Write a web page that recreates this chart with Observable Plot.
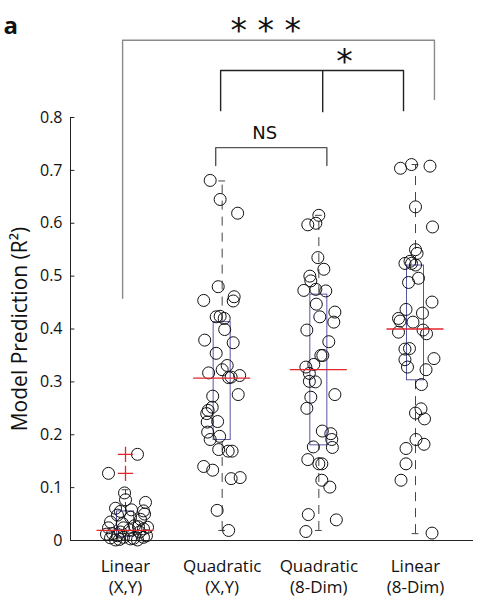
<!DOCTYPE html>
<html>
<head>
<meta charset="utf-8">
<script src="https://cdn.jsdelivr.net/npm/d3@7"></script>
<script src="https://cdn.jsdelivr.net/npm/@observablehq/plot@0.6"></script>
<style>
  html, body { margin: 0; padding: 0; background: white; }
</style>
</head>
<body>
<div id="chart"></div>
<script>
// ---------- data ----------
const categories = ["Linear\n(X,Y)", "Quadratic\n(X,Y)", "Quadratic\n(8-Dim)", "Linear\n(8-Dim)"];
const yTicks = [0, 0.1, 0.2, 0.3, 0.4, 0.5, 0.6, 0.7, 0.8];

const valuesLinearXY = [0.163,0.127,0.090,0.077,0.072,0.061,0.056,0.050,0.058,0.055,0.048,0.035,0.044,0.040,0.032,0.028,0.026,0.025,0.024,0.020,0.022,0.013,0.009,0.006,0.016,0.009,0.003,0.005,0.001,0.001,0.006,0.016,0.024,0.012,0.002,0.004];
const jitterLinearXY = [0.124,-0.176,-0.01,0,0.207,-0.103,0.186,0.197,0.062,-0.052,-0.083,-0.155,0.052,0.155,-0.031,0.093,0.134,0.228,-0.176,0.041,0.186,-0.134,-0.083,-0.021,0.145,0.217,0.052,-0.155,-0.103,0.124,0.186,-0.052,-0.021,-0.197,-0.062,0.083];

const valuesQuadXY = [0.681,0.645,0.619,0.480,0.454,0.461,0.453,0.423,0.424,0.420,0.399,0.379,0.374,0.354,0.331,0.323,0.317,0.308,0.309,0.312,0.276,0.273,0.252,0.246,0.240,0.225,0.224,0.205,0.197,0.191,0.172,0.169,0.169,0.140,0.133,0.117,0.119,0.057,0.019];
const jitterQuadXY = [-0.124,-0.021,0.16,-0.041,-0.191,0.124,0.114,-0.062,-0.021,0.021,0.026,-0.181,0.114,-0.062,0.052,0,-0.14,0.067,0.093,0.181,0.166,-0.098,-0.103,-0.145,-0.16,-0.047,-0.155,-0.15,-0.026,-0.124,-0.036,0.062,0.103,-0.191,-0.098,0.093,0.186,-0.052,0.067];

const valuesQuad8 = [0.615,0.597,0.600,0.535,0.513,0.500,0.491,0.473,0.475,0.472,0.447,0.432,0.423,0.413,0.398,0.376,0.350,0.350,0.333,0.328,0.316,0.301,0.300,0.276,0.271,0.250,0.207,0.202,0.191,0.177,0.176,0.153,0.145,0.145,0.114,0.101,0.049,0.039,0.017];
const jitterQuad8 = [0,-0.114,-0.031,-0.01,0.052,-0.093,-0.083,-0.155,-0.031,0.072,-0.026,0.166,0.01,0.155,-0.124,0.103,0.021,0.041,-0.052,-0.134,-0.098,-0.098,-0.036,0.166,-0.083,-0.124,0.036,0.124,0.134,-0.057,0.14,-0.114,0,0.031,0.031,0.114,-0.109,0.181,-0.134];

const valuesLinear8 = [0.704,0.711,0.708,0.631,0.593,0.550,0.543,0.524,0.524,0.521,0.528,0.496,0.488,0.451,0.437,0.430,0.420,0.415,0.413,0.394,0.398,0.391,0.362,0.363,0.342,0.328,0.344,0.323,0.295,0.249,0.241,0.230,0.191,0.182,0.174,0.145,0.114,0.014];
const jitterLinear8 = [-0.155,-0.041,0.15,0,0.176,0,0.016,-0.109,-0.041,0,-0.057,0.031,-0.072,0.171,-0.098,0.072,-0.176,-0.16,-0.026,-0.176,0.078,0.114,-0.109,-0.062,-0.109,-0.083,0.191,0.109,0.062,0.057,0,0.093,0.005,0.088,-0.098,-0.098,-0.15,0.171];

// box statistics
const whiskerLow  = [0.001, 0.019, 0.019, 0.013];
const quartile1   = [0.007, 0.190, 0.180, 0.303];
const medians     = [0.019, 0.307, 0.323, 0.400];
const quartile3   = [0.055, 0.413, 0.465, 0.520];
const whiskerHigh = [0.096, 0.680, 0.615, 0.711];
const outliersLinearXY = [0.163, 0.127];

// ---------- tables built from the arrays ----------
const groupValues = [valuesLinearXY, valuesQuadXY, valuesQuad8, valuesLinear8];
const groupJitter = [jitterLinearXY, jitterQuadXY, jitterQuad8, jitterLinear8];
const points = groupValues.flatMap((vals, g) => vals.map((v, i) => ({g: g + 1, j: groupJitter[g][i], v})));
const stats = categories.map((c, i) => ({
  g: i + 1, lo: whiskerLow[i], q1: quartile1[i], med: medians[i], q3: quartile3[i], hi: whiskerHigh[i]
}));
const outliers = outliersLinearXY.map(v => ({g: 1, v}));

// significance annotations (group indices, offsets in group units, y levels)
const brackets = [
  {a: 1, b: 4, da: -0.03, db: 0.196, top: 0.946, legA: 0.458, legB: 0.834, color: "#8a8a8a"},
  {a: 2, b: 4, da: -0.016, db: -0.124, top: 0.889, legA: 0.813, legB: 0.813, color: "#222"},
  {a: 2, b: 3, da: -0.067, db: 0.083, top: 0.743, legA: 0.709, legB: 0.709, color: "#555"}
];
const midLeg = {g: 3, d: 0.04, top: 0.889, bottom: 0.809};
const sigLabels = [
  {text: "* * *", x: 2.45, y: 0.962, size: 33},
  {text: "*", x: 3.265, y: 0.904, size: 33},
  {text: "NS", x: 2.44, y: 0.77, size: 18}
];

const boxHalf = 0.088, medHalf = 0.295, capHalf = 0.035;
const xLeft = 0.431;
const font = "'Open Sans', 'Noto Sans', sans-serif";

const bracketPaths = brackets.map(b => [
  {x: b.a + b.da, y: b.legA}, {x: b.a + b.da, y: b.top},
  {x: b.b + b.db, y: b.top}, {x: b.b + b.db, y: b.legB}
].map(p => ({...p, color: b.color})));

const chart = Plot.plot({
  width: 488,
  height: 600,
  marginLeft: 70,
  marginRight: 15,
  marginTop: 117,
  marginBottom: 60,
  x: {domain: [xLeft, 4.6], axis: null},
  y: {domain: [0, 0.8], axis: null},
  style: {fontFamily: font, fontSize: "16px", background: "white", color: "black"},
  marks: [
    // axes
    Plot.ruleY([0], {stroke: "#222", strokeWidth: 1.2}),
    Plot.ruleX([xLeft], {y1: 0, y2: 0.8, stroke: "#222", strokeWidth: 1}),
    Plot.ruleY(yTicks, {x1: xLeft, x2: xLeft + 0.045, stroke: "#222"}),
    Plot.text(yTicks, {x: xLeft, y: d => d, text: d => d === 0 ? "0" : d.toFixed(1), textAnchor: "end", dx: -8, fontSize: 16, fill: "#111"}),
    Plot.text(categories, {x: (d, i) => i + 1, y: 0, text: d => d, lineAnchor: "top", dy: 16, lineHeight: 1.27, fontSize: 17, fill: "#111"}),
    Plot.text(["Model Prediction (R²)"], {frameAnchor: "left", textAnchor: "middle", dx: -50, rotate: -90, fontSize: 21, fill: "#111"}),
    Plot.text(["a"], {frameAnchor: "top-left", textAnchor: "start", lineAnchor: "top", dx: -67, dy: -101, fontSize: 24, fontWeight: "bold", fill: "#111"}),
    // whiskers
    Plot.ruleX(stats, {x: "g", y1: "q3", y2: "hi", stroke: "#444", strokeDasharray: "9,7"}),
    Plot.ruleX(stats, {x: "g", y1: "lo", y2: "q1", stroke: "#444", strokeDasharray: "9,7"}),
    Plot.ruleY(stats, {y: "hi", x1: d => d.g - capHalf, x2: d => d.g + capHalf, stroke: "#444"}),
    Plot.ruleY(stats, {y: "lo", x1: d => d.g - capHalf, x2: d => d.g + capHalf, stroke: "#444"}),
    // boxes
    Plot.rect(stats, {x1: d => d.g - boxHalf, x2: d => d.g + boxHalf, y1: "q1", y2: "q3", fill: "none", stroke: "#5656a6", strokeWidth: 1}),
    // points
    Plot.dot(points, {x: d => d.g + d.j, y: "v", r: 6, stroke: "#111", fill: "none", strokeWidth: 1}),
    // medians
    Plot.ruleY(stats, {y: "med", x1: d => d.g - medHalf, x2: d => d.g + medHalf, stroke: "#e3262e", strokeWidth: 1.3}),
    // outliers
    Plot.dot(outliers, {x: "g", y: "v", symbol: "plus", r: 5, stroke: "#e3262e", strokeWidth: 1.3}),
    // significance brackets
    ...bracketPaths.map(p => Plot.line(p, {x: "x", y: "y", stroke: p[0].color, strokeWidth: 1.4, curve: "linear"})),
    Plot.ruleX([midLeg], {x: d => d.g + d.d, y1: "bottom", y2: "top", stroke: "#222", strokeWidth: 1.4}),
    Plot.text(sigLabels, {x: "x", y: "y", text: "text", fontSize: d => d.size, fill: "#111", fontFamily: "DejaVu Sans"})
  ]
});

document.getElementById("chart").appendChild(chart);
</script>
</body>
</html>
